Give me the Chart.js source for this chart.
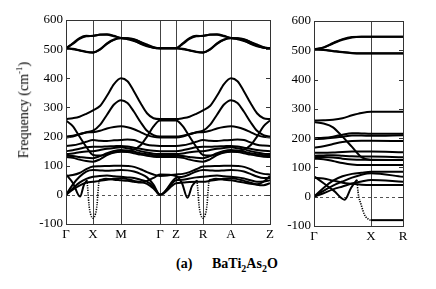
<!DOCTYPE html>
<html>
<head>
<meta charset="utf-8">
<script src="https://cdn.jsdelivr.net/npm/chart.js@4/dist/chart.umd.min.js"></script>
<style>
  body { margin: 0; background: #fff; width: 436px; height: 289px; position: relative; overflow: hidden;
         font-family: "Liberation Serif", "Times New Roman", serif; color: #000; }
  #left { position: absolute; left: 0; top: 0; }
  #right { position: absolute; left: 250px; top: 0; }
  .ylab { position: absolute; left: 23px; top: 110px; transform: translate(-50%, -50%) rotate(-90deg);
          font-size: 14px; white-space: nowrap; }
  .cap { position: absolute; top: 256px; font-weight: bold; font-size: 14px; white-space: nowrap; }
  .cap sub { font-size: 10px; }
</style>
</head>
<body>
<canvas id="left" width="280" height="245"></canvas>
<canvas id="right" width="165" height="248"></canvas>
<div class="ylab">Frequency (cm<sup style="font-size:9px">-1</sup>)</div>
<div class="cap" style="left:176px">(a)</div>
<div class="cap" style="left:212px">BaTi<sub>2</sub>As<sub>2</sub>O</div>
<script>
// high-symmetry points along the two k-paths
const leftSymK = [0, 27, 55, 94, 110, 137, 165, 204];
const leftSymLabels = ['Γ', 'X', 'M', 'Γ', 'Z', 'R', 'A', 'Z'];
const rightSymK = [0, 57, 89];
const rightSymLabels = ['Γ', 'X', 'R'];

// sampling of Γ-X-M-Γ; Z-R-A-Z uses the same spacing shifted by kZShift
const kPlane = [0, 6.75, 13.5, 20.25, 27, 34, 41, 48, 55, 61.5, 68, 74.5, 81, 87.5, 94];
const kZShift = 110;

// optical branches (same in both planes)
const top1 = [503, 520, 538, 546, 545, 550, 551, 546, 538, 536, 532, 525, 516, 507, 503];
const top2 = [503, 518, 535, 544, 546, 549, 549, 544, 538, 534, 528, 520, 512, 506, 503];
const top3 = [503, 500, 495, 490, 488, 498, 518, 532, 537, 537, 534, 524, 512, 505, 503];
const top4 = [503, 501, 496, 491, 489, 500, 520, 533, 538, 537, 530, 518, 510, 505, 503];
const opt400 = [260, 263, 268, 278, 290, 305, 340, 380, 400, 390, 355, 315, 280, 263, 260];
const opt325 = [200, 203, 208, 215, 220, 240, 275, 310, 325, 315, 285, 250, 220, 205, 200];
const opt235 = [197, 200, 208, 214, 215, 220, 228, 233, 235, 232, 225, 215, 205, 199, 197];
const optDrop = [255, 236, 200, 165, 137, 135, 140, 146, 150, 150, 155, 170, 200, 235, 255];
const mid1 = [168, 170, 175, 182, 188, 186, 185, 187, 188, 190, 188, 180, 172, 169, 168];
const mid2 = [150, 153, 158, 163, 165, 165, 166, 167, 168, 166, 162, 158, 154, 151, 150];
const mid3 = [140, 142, 146, 149, 150, 154, 158, 161, 163, 160, 156, 150, 145, 141, 140];
const mid4 = [135, 133, 130, 127, 126, 133, 143, 151, 154, 152, 148, 143, 139, 136, 135];
const mid5 = [130, 127, 121, 116, 114, 122, 136, 145, 148, 147, 143, 138, 134, 131, 130];

// low branches, Γ-X-M-Γ plane and Z-R-A-Z plane
const low1 = [0, 18, 32, 42, 45, 48, 52, 55, 57, 54, 48, 44, 38, 22, 0];
const low2 = [0, 22, 42, 55, 62, 65, 66, 64, 62, 60, 58, 52, 45, 28, 0];
const low3 = [0, 35, 62, 80, 85, 84, 83, 84, 85, 84, 80, 72, 60, 35, 0];
const low4 = [65, 68, 75, 88, 97, 98, 99, 100, 100, 99, 96, 88, 78, 70, 65];
const lowZ1 = [40, 42, 44, 45, 45, 48, 52, 55, 57, 54, 48, 42, 35, 33, 40];
const lowZ2 = [50, 52, 56, 60, 62, 65, 66, 64, 62, 60, 56, 50, 45, 46, 50];
const lowZ3 = [58, 62, 70, 80, 85, 84, 83, 84, 85, 84, 80, 72, 63, 58, 58];
const lowZ4 = [70, 72, 78, 88, 97, 98, 99, 100, 100, 99, 96, 88, 78, 72, 70];

// soft (unstable) mode, solid parts and dotted imaginary dips
const softAK = [0, 7, 14, 18, 21];
const softAF = [70, 40, -6, 35, 50];
const dipXK = [21, 22, 23, 24.5, 27, 29.5, 31, 32, 33];
const dipXF = [50, 10, -35, -65, -80, -65, -35, 10, 50];
const softBK = [33, 40, 48, 55, 61.5, 68, 74.5, 81, 87.5, 94, 110, 116, 121.5, 126, 131];
const softBF = [50, 55, 52, 50, 48, 45, 42, 48, 58, 70, 65, 40, -10, 30, 50];
const dipRK = [131, 132, 133, 134.5, 137, 139.5, 141, 142, 143];
const dipRF = [50, 10, -35, -65, -80, -65, -35, 10, 50];
const softCK = [143, 150, 158, 165, 171.5, 178, 184.5, 191, 197.5, 204];
const softCF = [50, 55, 52, 50, 46, 42, 38, 36, 45, 65];

// right panel: Γ-X-R
const kRight = [0, 9.5, 19, 28.5, 38, 47.5, 57, 89];
const rTop1 = [503, 510, 525, 538, 545, 546, 546, 546];
const rTop2 = [503, 509, 523, 536, 544, 546, 546, 546];
const rTop3 = [503, 502, 498, 494, 491, 490, 490, 490];
const rTop4 = [503, 501, 497, 493, 490, 489, 489, 489];
const rOpt1 = [260, 261, 263, 268, 278, 286, 290, 290];
const rDrop = [255, 250, 237, 205, 170, 135, 125, 125];
const rOpt2 = [200, 201, 205, 212, 217, 216, 215, 215];
const rOpt3 = [197, 198, 201, 205, 209, 209, 208, 210];
const rMid1 = [168, 172, 180, 187, 190, 191, 191, 190];
const rMid2 = [150, 150, 151, 153, 154, 154, 154, 152];
const rMid3 = [140, 141, 142, 140, 138, 137, 137, 135];
const rMid4 = [135, 136, 134, 130, 127, 126, 126, 125];
const rMid5 = [130, 128, 122, 115, 110, 108, 108, 108];
const rLow1 = [0, 30, 55, 70, 78, 82, 85, 85];
const rLow2 = [0, 20, 38, 52, 65, 75, 80, 68];
const rLow3 = [0, 12, 25, 35, 45, 52, 57, 51];
const rLow4 = [65, 62, 55, 48, 44, 41, 40, 40];
const rSoftK = [0, 10, 20, 30.7, 37, 43];
const rSoftF = [70, 45, 20, -10, 30, 58];
const rDipK = [43, 44, 47.3, 50.7, 55.7, 57];
const rDipF = [58, 17, -29, -63, -79, -80];
const rFlatK = [57, 89];
const rFlatF = [-80, -80];

Chart.defaults.font.family = '"Liberation Serif", "Times New Roman", serif';
Chart.defaults.font.size = 13;
Chart.defaults.color = '#000';

const zip = (ks, fs) => ks.map((k, i) => ({x: k, y: fs[i]}));

function line(points, dotted) {
    return {
        data: points,
        borderColor: '#000',
        borderWidth: dotted ? 1.6 : 2,
        borderDash: dotted ? [1.2, 1.2] : [],
        pointRadius: 0,
        cubicInterpolationMode: 'monotone',
        fill: false
    };
}

// dashed zero line, plot frame and inward ticks
const framePlugin = {
    id: 'frame',
    beforeDatasetsDraw(chart) {
        const {ctx, chartArea: a, scales: {y}} = chart;
        const y0 = Math.round(y.getPixelForValue(0)) + 0.5;
        ctx.save();
        ctx.strokeStyle = '#555';
        ctx.lineWidth = 1;
        ctx.setLineDash([3, 3]);
        ctx.beginPath();
        ctx.moveTo(a.left, y0);
        ctx.lineTo(a.right, y0);
        ctx.stroke();
        ctx.restore();
    },
    afterDatasetsDraw(chart) {
        const {ctx, chartArea: a, scales: {y}} = chart;
        ctx.save();
        ctx.strokeStyle = '#333';
        ctx.lineWidth = 1;
        ctx.strokeRect(Math.round(a.left) + 0.5, Math.round(a.top) + 0.5,
                       Math.round(a.width), Math.round(a.height));
        ctx.beginPath();
        y.ticks.forEach(t => {
            const py = Math.round(y.getPixelForValue(t.value)) + 0.5;
            ctx.moveTo(a.left, py);
            ctx.lineTo(a.left + 4, py);
            ctx.moveTo(a.right - 4, py);
            ctx.lineTo(a.right, py);
        });
        ctx.stroke();
        ctx.restore();
    }
};

function makeChart(id, datasets, symK, symLabels, kMax, yWidth, xHeight, padTop, padRight) {
    return new Chart(document.getElementById(id), {
        type: 'line',
        data: {datasets: datasets},
        options: {
            responsive: false,
            animation: false,
            layout: {padding: {top: padTop, right: padRight, left: 0, bottom: 0}},
            plugins: {legend: {display: false}, tooltip: {enabled: false}},
            scales: {
                x: {
                    type: 'linear', min: 0, max: kMax,
                    afterBuildTicks: s => { s.ticks = symK.map(v => ({value: v})); },
                    afterFit: s => { s.height = xHeight; },
                    ticks: {autoSkip: false, maxRotation: 0, padding: 3,
                            callback: (v, i) => symLabels[i]},
                    grid: {color: '#444', lineWidth: 1, drawTicks: false},
                    border: {display: false}
                },
                y: {
                    min: -100, max: 600,
                    afterFit: s => { s.width = yWidth; },
                    ticks: {stepSize: 100, padding: 3},
                    grid: {drawOnChartArea: false, drawTicks: false},
                    border: {display: false}
                }
            }
        },
        plugins: [framePlugin]
    });
}

// left panel: Γ-X-M-Γ-Z-R-A-Z
const leftBands = [
    [top1, top1], [top2, top2], [top3, top3], [top4, top4],
    [opt400, opt400], [opt325, opt325], [opt235, opt235], [optDrop, optDrop],
    [mid1, mid1], [mid2, mid2], [mid3, mid3], [mid4, mid4], [mid5, mid5],
    [low1, lowZ1], [low2, lowZ2], [low3, lowZ3], [low4, lowZ4]
];
const leftSets = leftBands.map(([g, z]) =>
    line(zip(kPlane, g).concat(zip(kPlane.map(k => k + kZShift), z))));
leftSets.push(line(zip(softAK, softAF)));
leftSets.push(line(zip(softBK, softBF)));
leftSets.push(line(zip(softCK, softCF)));
leftSets.push(line(zip(dipXK, dipXF), true));
leftSets.push(line(zip(dipRK, dipRF), true));

makeChart('left', leftSets, leftSymK, leftSymLabels, 204, 66, 21, 20, 10);

// right panel: Γ-X-R
const rightBands = [rTop1, rTop2, rTop3, rTop4, rOpt1, rDrop, rOpt2, rOpt3,
    rMid1, rMid2, rMid3, rMid4, rMid5, rLow1, rLow2, rLow3, rLow4];
const rightSets = rightBands.map(f => line(zip(kRight, f)));
rightSets.push(line(zip(rSoftK, rSoftF)));
rightSets.push(line(zip(rFlatK, rFlatF)));
rightSets.push(line(zip(rDipK, rDipF), true));

makeChart('right', rightSets, rightSymK, rightSymLabels, 89, 64, 22, 21, 12);
</script>
</body>
</html>
